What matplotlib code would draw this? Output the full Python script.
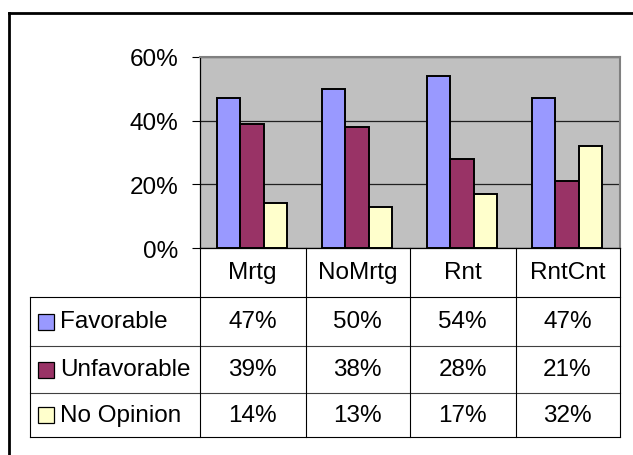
import matplotlib.pyplot as plt
import numpy as np
from matplotlib.lines import Line2D
from matplotlib.patches import Rectangle

plt.rcParams['font.family'] = ['Liberation Sans', 'DejaVu Sans']

groups = ['Mrtg', 'NoMrtg', 'Rnt', 'RntCnt']
series = ['Favorable', 'Unfavorable', 'No Opinion']
favorable = [47, 50, 54, 47]
unfavorable = [39, 38, 28, 21]
no_opinion = [14, 13, 17, 32]
colors = ['#9999FF', '#993366', '#FFFFCC']

W, H = 633, 456
FS = 17.5
fig = plt.figure(figsize=(W / 100, H / 100), dpi=100)


def fx(x):
    return x / W


def fy(y):
    return 1 - y / H


# plot area in pixels
left, right, top, bottom = 199.5, 619.5, 58, 249
ax = fig.add_axes([fx(left), fy(bottom), fx(right - left), (bottom - top) / H])
ax.set_facecolor('#C0C0C0')

x = np.arange(len(groups))
bw = 0.225
for k, (vals, c) in enumerate(zip([favorable, unfavorable, no_opinion], colors)):
    ax.bar(x + (k - 1) * bw, np.array(vals) / 100, bw, color=c,
           edgecolor='black', linewidth=1.4, zorder=3)

ax.set_xlim(-0.5, len(groups) - 0.5)
ax.set_ylim(0, 0.6)
ax.set_yticks([0, 0.2, 0.4, 0.6])
ax.set_yticklabels(['0%', '20%', '40%', '60%'], fontsize=FS)
ax.set_xticks([])
ax.tick_params(axis='y', length=6, width=0.8, pad=9)
ax.yaxis.grid(True, color='#202020', linewidth=0.9, zorder=1)
ax.set_axisbelow(True)
for s in ['top', 'right']:
    ax.spines[s].set_color('#808080')
    ax.spines[s].set_linewidth(1.5)
ax.spines['left'].set_linewidth(0.9)
ax.spines['bottom'].set_linewidth(0.9)

# outer chart frame
fig.add_artist(Line2D([fx(8.5), fx(W + 5)], [fy(14), fy(14)], color='black', lw=2))
fig.add_artist(Line2D([fx(8.5), fx(8.5)], [fy(14), fy(H + 5)], color='black', lw=2))

# data table
cols = [199.5, 305.5, 409.5, 515.5, 619.5]
rows = [249, 298, 347, 394, 438]
tbl_left = 30
lc = 'black'
lw = 0.8


def hline(x0, x1, y, color=lc):
    fig.add_artist(Line2D([fx(x0), fx(x1)], [fy(y), fy(y)], color=color, lw=lw))


def vline(x, y0, y1, color=lc):
    fig.add_artist(Line2D([fx(x), fx(x)], [fy(y0), fy(y1)], color=color, lw=lw))


for i, y in enumerate(rows[1:]):
    hline(tbl_left, cols[-1], y, color=lc if i in (0, 3) else '#404040')
for xc in cols:
    vline(xc, rows[0], rows[-1])
vline(tbl_left, rows[1], rows[-1])

for j, g in enumerate(groups):
    fig.text(fx((cols[j] + cols[j + 1]) / 2), fy((rows[0] + rows[1]) / 2), g,
             ha='center', va='center', fontsize=FS)

table_vals = [favorable, unfavorable, no_opinion]
for i, (name, vals, c) in enumerate(zip(series, table_vals, colors)):
    yc = (rows[i + 1] + rows[i + 2]) / 2
    fig.add_artist(Rectangle((fx(38), fy(yc + 8)), 16 / W, 16 / H,
                             facecolor=c, edgecolor='black', lw=0.9))
    fig.text(fx(60), fy(yc), name, ha='left', va='center', fontsize=FS)
    for j, v in enumerate(vals):
        fig.text(fx((cols[j] + cols[j + 1]) / 2), fy(yc), f'{v}%',
                 ha='center', va='center', fontsize=FS)

fig.savefig('out.png', dpi=100)
